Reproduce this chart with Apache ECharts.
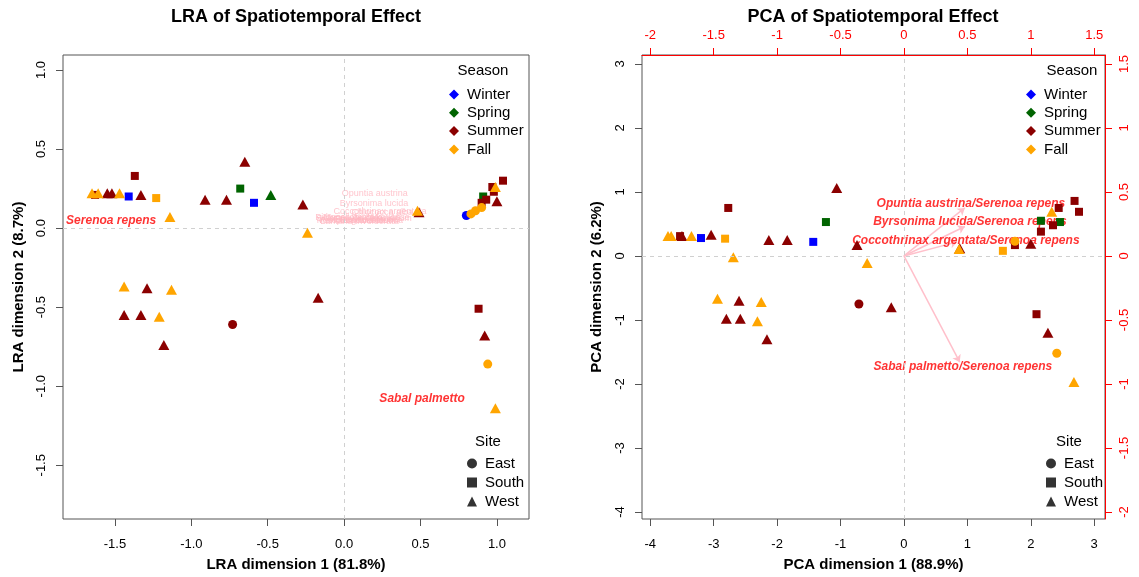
<!DOCTYPE html>
<html lang="en">
<head>
<meta charset="UTF-8">
<title>LRA / PCA of Spatiotemporal Effect</title>
<script src="https://cdn.jsdelivr.net/npm/echarts@6/dist/echarts.min.js"></script>
<style>
  html, body { margin: 0; padding: 0; background: #fff; }
  #chart { width: 1139px; height: 577px; }
</style>
</head>
<body>
<div id="chart"></div>
<script>
// legend groups
const seasons = ['Winter', 'Spring', 'Summer', 'Fall'];
const seasonColors = ['#0000FF', '#006400', '#8B0000', '#FFA500'];
const sites = ['East', 'South', 'West'];
const siteSymbols = ['circle', 'rect', 'triangle'];
const siteSizes = [9, 8, [11, 10]];

// LRA sample scores: [dim1, dim2, site]
const lraWinter = [[-1.41, 0.20, 'South'], [-0.59, 0.16, 'South'], [0.80, 0.08, 'East']];
const lraSpring = [[-0.68, 0.25, 'South'], [-0.48, 0.21, 'West'], [0.91, 0.20, 'South']];
const lraSummer = [
  [-1.63, 0.21, 'South'], [-1.55, 0.22, 'West'], [-1.52, 0.22, 'West'], [-1.33, 0.21, 'West'],
  [-1.37, 0.33, 'South'], [-0.65, 0.42, 'West'], [-0.91, 0.18, 'West'], [-0.77, 0.18, 'West'],
  [-0.27, 0.15, 'West'], [0.49, 0.10, 'West'], [0.90, 0.16, 'South'], [0.93, 0.18, 'South'],
  [1.00, 0.17, 'West'], [0.97, 0.26, 'South'], [1.04, 0.30, 'South'], [0.98, 0.23, 'South'],
  [-1.44, -0.55, 'West'], [-1.33, -0.55, 'West'], [-1.29, -0.38, 'West'], [-1.18, -0.74, 'West'],
  [-0.73, -0.61, 'East'], [-0.17, -0.44, 'West'], [0.88, -0.51, 'South'], [0.92, -0.68, 'West']
];
const lraFall = [
  [-1.65, 0.22, 'West'], [-1.61, 0.22, 'West'], [-1.47, 0.22, 'West'], [-1.23, 0.19, 'South'],
  [-1.14, 0.07, 'West'], [-0.24, -0.03, 'West'], [0.48, 0.11, 'West'], [0.83, 0.09, 'East'],
  [0.86, 0.11, 'East'], [0.90, 0.13, 'East'], [0.99, 0.26, 'West'], [-1.44, -0.37, 'West'],
  [-1.13, -0.39, 'West'], [-1.21, -0.56, 'West'], [0.94, -0.86, 'East'], [0.99, -1.14, 'West']
];

// PCA sample scores: [dim1, dim2, site]
const pcaWinter = [[-3.20, 0.28, 'South'], [-1.43, 0.22, 'South']];
const pcaSpring = [[-1.23, 0.53, 'South'], [2.16, 0.55, 'South'], [2.46, 0.53, 'South']];
const pcaSummer = [
  [-3.53, 0.31, 'South'], [-3.50, 0.31, 'West'], [-3.04, 0.33, 'West'], [-2.77, 0.75, 'South'],
  [-1.06, 1.06, 'West'], [-2.13, 0.25, 'West'], [-1.84, 0.25, 'West'], [-0.74, 0.17, 'West'],
  [0.88, 0.12, 'West'], [1.75, 0.17, 'South'], [2.00, 0.19, 'West'], [2.16, 0.38, 'South'],
  [2.35, 0.48, 'South'], [2.44, 0.75, 'South'], [2.69, 0.86, 'South'], [2.76, 0.69, 'South'],
  [-0.71, -0.75, 'East'], [-0.20, -0.80, 'West'], [-2.60, -0.70, 'West'], [-2.80, -0.98, 'West'],
  [-2.58, -0.98, 'West'], [-2.16, -1.30, 'West'], [2.09, -0.91, 'South'], [2.27, -1.20, 'West']
];
const pcaFall = [
  [-3.72, 0.31, 'West'], [-3.67, 0.31, 'West'], [-3.35, 0.31, 'West'], [-2.82, 0.27, 'South'],
  [-2.69, -0.02, 'West'], [-0.58, -0.11, 'West'], [0.87, 0.11, 'West'], [1.56, 0.08, 'South'],
  [1.75, 0.23, 'East'], [2.33, 0.69, 'West'], [-2.94, -0.67, 'West'], [-2.25, -0.72, 'West'],
  [-2.31, -1.02, 'West'], [2.41, -1.52, 'East'], [2.68, -1.97, 'West']
];

// species labels on the LRA plot: [name, dim1, dim2]
const lraSpeciesRed = [['Serenoa repens', -1.525, 0.044], ['Sabal palmetto', 0.51, -1.076]];
const lraSpeciesPink = [
  ['Opuntia austrina', 0.20, 0.22], ['Byrsonima lucida', 0.196, 0.158],
  ['Coccothrinax argentata', 0.235, 0.108], ['Chiococca alba', 0.25, 0.10],
  ['Pithecellobium keyense', 0.12, 0.07], ['Metopium toxiferum', 0.08, 0.05],
  ['Randia aculeata', 0.05, 0.045], ['Ernodea littoralis', 0.15, 0.055],
  ['Lantana involucrata', 0.10, 0.04], ['Sideroxylon celastrinum', 0.13, 0.06],
  ['Eugenia foetida', 0.18, 0.045], ['Myrica cerifera', 0.06, 0.065]
];

// PCA loadings (top/right axis units): arrow tips and label positions
const pcaLoadingNames = ['Opuntia austrina/Serenoa repens', 'Byrsonima lucida/Serenoa repens',
  'Coccothrinax argentata/Serenoa repens', 'Sabal palmetto/Serenoa repens'];
const pcaArrowTips = [[0.48, 0.375], [0.48, 0.23], [0.42, 0.11], [0.44, -0.83]];
const pcaLabelPos = [[0.528, 0.406], [0.52, 0.266], [0.488, 0.117], [0.465, -0.867]];

// tick values
const lraXTicks = [-1.5, -1.0, -0.5, 0, 0.5, 1.0];
const lraYTicks = [-1.5, -1.0, -0.5, 0, 0.5, 1.0];
const pcaTicks = [-4, -3, -2, -1, 0, 1, 2, 3];
const pcaTopTicks = [-2, -1.5, -1, -0.5, 0, 0.5, 1, 1.5];

const toItem = p => {
  const k = sites.indexOf(p[2]);
  return { value: [p[0], p[1]], symbol: siteSymbols[k], symbolSize: siteSizes[k] };
};

const lraData = [lraWinter, lraSpring, lraSummer, lraFall];
const pcaData = [pcaWinter, pcaSpring, pcaSummer, pcaFall];

const font = 'Liberation Sans, Arial, sans-serif';
const boxColor = '#555';

function valueAxis(grid, min, max, ticks, fmt, extra) {
  return Object.assign({
    type: 'value', gridIndex: grid, min: min, max: max,
    axisLine: { show: false, onZero: false },
    splitLine: { show: false },
    axisTick: { show: true, length: 7, customValues: ticks, lineStyle: { color: boxColor } },
    axisLabel: { customValues: ticks, formatter: fmt, fontSize: 13, color: '#000', fontFamily: font },
    nameLocation: 'middle',
    nameTextStyle: { fontSize: 15, fontWeight: 'bold', color: '#000', fontFamily: font }
  }, extra);
}

function redAxis(axis, pos, margin, rotate) {
  axis.position = pos;
  axis.axisLine = { show: true, onZero: false, lineStyle: { color: '#FF0000', width: 1 } };
  axis.axisTick.lineStyle = { color: '#FF0000' };
  axis.axisLabel.color = '#FF0000';
  axis.axisLabel.margin = margin;
  if (rotate) axis.axisLabel.rotate = rotate;
  return axis;
}

const fix1 = v => v.toFixed(1);
const plain = v => String(v);

const xAxes = [
  valueAxis(0, -1.84, 1.21, lraXTicks, fix1, { name: 'LRA dimension 1 (81.8%)', nameGap: 38, position: 'bottom' }),
  valueAxis(1, -4.13, 3.17, pcaTicks, plain, { name: 'PCA dimension 1 (88.9%)', nameGap: 38, position: 'bottom' }),
  redAxis(valueAxis(1, -2.065, 1.585, pcaTopTicks, plain, {}), 'top', 13)
];
xAxes[0].axisLabel.margin = 19;
xAxes[1].axisLabel.margin = 19;

const yAxes = [
  valueAxis(0, -1.84, 1.095, lraYTicks, fix1, { name: 'LRA dimension 2 (8.7%)', nameGap: 37, position: 'left' }),
  valueAxis(1, -4.11, 3.14, pcaTicks, plain, { name: 'PCA dimension 2 (6.2%)', nameGap: 38, position: 'left' }),
  redAxis(valueAxis(1, -2.055, 1.57, pcaTopTicks, plain, {}), 'right', 13, 90)
];
yAxes[0].axisLabel.rotate = 90;
yAxes[0].axisLabel.margin = 15;
yAxes[1].axisLabel.rotate = 90;
yAxes[1].axisLabel.margin = 15;

const zeroLines = (xi, yi) => ({
  type: 'scatter', xAxisIndex: xi, yAxisIndex: yi, data: [], z: 1, silent: true,
  markLine: {
    silent: true, symbol: 'none', label: { show: false }, animation: false,
    lineStyle: { type: [4, 4], color: '#d0d0d0', width: 1 },
    data: [{ xAxis: 0 }, { yAxis: 0 }]
  }
});

const textSeries = (xi, yi, rows, color, size, bold) => ({
  type: 'scatter', xAxisIndex: xi, yAxisIndex: yi, z: 2, silent: true,
  symbolSize: 0,
  data: rows.map(r => ({ name: r[0], value: [r[1], r[2]] })),
  label: {
    show: true, position: 'inside', formatter: '{b}', color: color, fontSize: size,
    fontFamily: font, fontWeight: bold ? 'bold' : 'normal', fontStyle: bold ? 'italic' : 'normal'
  }
});

const series = [zeroLines(0, 0), zeroLines(1, 1)];

series.push(textSeries(0, 0, lraSpeciesPink, '#FFB6C1', 9, false));
series.push(textSeries(0, 0, lraSpeciesRed, '#FF0000', 12, true));

series.push({
  type: 'lines', coordinateSystem: 'cartesian2d', xAxisIndex: 2, yAxisIndex: 2, z: 2, silent: true,
  symbol: ['none', 'arrow'], symbolSize: 7,
  lineStyle: { color: '#FFC0CB', width: 1.5, opacity: 1 },
  data: pcaArrowTips.map(t => ({ coords: [[0, 0], t] }))
});
series.push(textSeries(2, 2, pcaLoadingNames.map((n, i) => [n, pcaLabelPos[i][0], pcaLabelPos[i][1]]),
  '#FF0000', 12, true));

seasons.forEach((s, i) => {
  series.push({
    type: 'scatter', name: s, xAxisIndex: 0, yAxisIndex: 0, z: 3,
    itemStyle: { color: seasonColors[i], opacity: 1 },
    data: lraData[i].map(toItem)
  });
  series.push({
    type: 'scatter', name: s, xAxisIndex: 1, yAxisIndex: 1, z: 3,
    itemStyle: { color: seasonColors[i], opacity: 1 },
    data: pcaData[i].map(toItem)
  });
});

// empty series only to give the Site legend its black symbols
sites.forEach((s, i) => {
  series.push({ type: 'scatter', name: s, xAxisIndex: 0, yAxisIndex: 0, data: [], symbol: siteSymbols[i],
    itemStyle: { color: '#000' } });
});

const legendText = { fontSize: 15, color: '#000', fontFamily: font, lineHeight: 15, padding: [0, 0, 0, 3] };
const seasonLegend = left => ({
  orient: 'vertical', left: left, top: 82, itemWidth: 10, itemHeight: 10, itemGap: 3.3,
  selectedMode: false, textStyle: legendText,
  data: seasons.map(n => ({ name: n, icon: 'diamond' }))
});
const siteLegend = left => ({
  orient: 'vertical', left: left, top: 451, itemWidth: 10, itemHeight: 10, itemGap: 4,
  selectedMode: false, textStyle: legendText,
  data: sites.map((n, i) => ({ name: n, icon: siteSymbols[i], itemStyle: { color: '#000' } }))
});

const heading = (text, left, top, size, weight) => ({
  text: text, left: left, top: top, textAlign: 'center', padding: 0,
  textStyle: { fontSize: size, fontWeight: weight, color: '#000', fontFamily: font }
});

const chart = echarts.init(document.getElementById('chart'));
chart.setOption({
  animation: false,
  backgroundColor: '#fff',
  title: [
    heading('LRA of Spatiotemporal Effect', 296, 8, 18, 'bold'),
    heading('PCA of Spatiotemporal Effect', 873, 8, 18, 'bold'),
    heading('Season', 483, 63, 15, 'normal'),
    heading('Season', 1072, 63, 15, 'normal'),
    heading('Site', 488, 434, 15, 'normal'),
    heading('Site', 1069, 434, 15, 'normal')
  ],
  legend: [seasonLegend(444), seasonLegend(1021), siteLegend(462), siteLegend(1041)],
  grid: [
    { left: 63, right: 610, top: 55, bottom: 58, show: true, borderColor: boxColor, borderWidth: 1 },
    { left: 642, right: 34, top: 55, bottom: 58, show: true, borderColor: boxColor, borderWidth: 1 }
  ],
  xAxis: xAxes,
  yAxis: yAxes,
  series: series
});
</script>
</body>
</html>
